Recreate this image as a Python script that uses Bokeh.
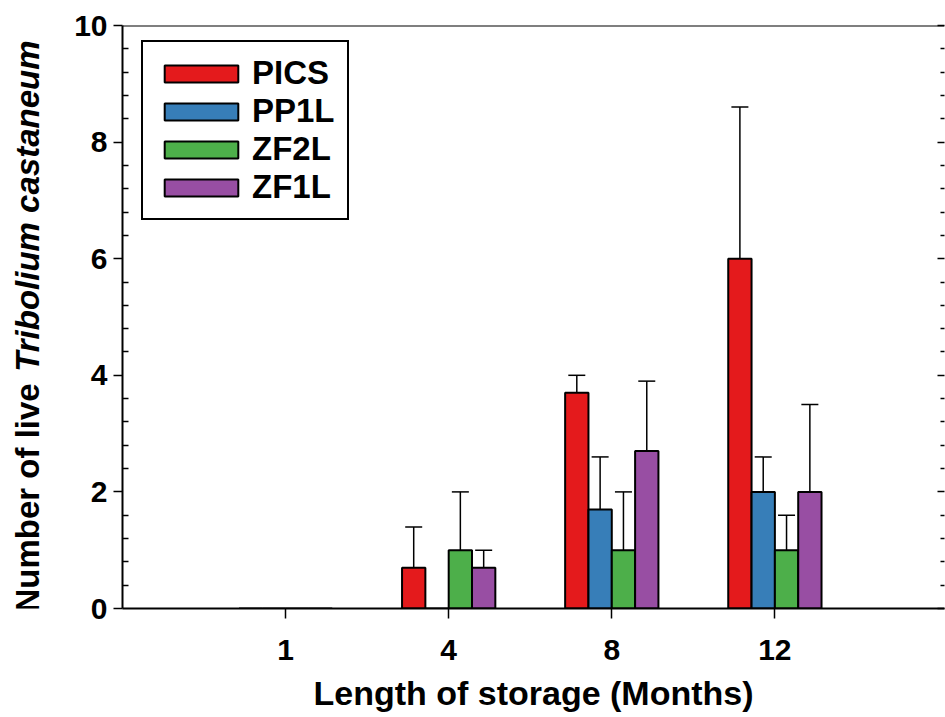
import math
from bokeh.plotting import figure
from bokeh.layouts import row
from bokeh.models import (ColumnDataSource, Range1d, FixedTicker, LinearAxis, Legend,
                          LegendItem, Whisker, TeeHead, Span, Label)
from bokeh.embed import file_html
from bokeh.resources import INLINE

# ---- data ----
months = ["1", "4", "8", "12"]
series = ["PICS", "PP1L", "ZF2L", "ZF1L"]
colors = ["#E41A1C", "#377EB8", "#4DAF4A", "#984EA3"]
pics = [0.0, 0.7, 3.7, 6.0]
pics_upper = [0.0, 1.4, 4.0, 8.6]
pp1l = [0.0, 0.0, 1.7, 2.0]
pp1l_upper = [0.0, 0.0, 2.6, 2.6]
zf2l = [0.0, 1.0, 1.0, 1.0]
zf2l_upper = [0.0, 2.0, 2.0, 1.6]
zf1l = [0.0, 0.7, 2.7, 2.0]
zf1l_upper = [0.0, 1.0, 3.9, 3.5]
y_ticks = [0, 2, 4, 6, 8, 10]
y_minor = [0.4, 0.8, 1.2, 1.6, 2.4, 2.8, 3.2, 3.6, 4.4, 4.8, 5.2, 5.6,
           6.4, 6.8, 7.2, 7.6, 8.4, 8.8, 9.2, 9.6]
y_title_plain = "Number of live"
y_title_italic = "Tribolium castaneum"
x_title = "Length of storage (Months)"

values = [pics, pp1l, zf2l, zf1l]
uppers = [pics_upper, pp1l_upper, zf2l_upper, zf1l_upper]

FONT = "Liberation Sans"
bar_w = 0.143
positions = [i + 1 for i in range(len(months))]

TW = 48  # width of the strip that carries the y title
W, H = 945, 717
TOP, BOTTOM = 25, 109

# ---- y-title strip (frame aligned with the chart frame; y range = pixels from page bottom) ----
tp = figure(width=TW, height=H, x_range=Range1d(0, TW), y_range=Range1d(BOTTOM, H - TOP),
            output_backend="svg", toolbar_location=None,
            min_border_left=0, min_border_right=0,
            min_border_top=TOP, min_border_bottom=BOTTOM,
            x_axis_location=None, y_axis_location=None)
tp.grid.visible = False
tp.outline_line_color = None
tp.background_fill_color = "white"
tp.border_fill_color = "white"
tp.add_layout(Label(x=27, y=H - 612, text=y_title_plain, angle=math.pi / 2,
                    text_align="left", text_baseline="middle", text_font=FONT,
                    text_font_size="33px", text_font_style="bold", text_color="black"))
tp.add_layout(Label(x=27, y=H - 40, text=y_title_italic, angle=math.pi / 2,
                    text_align="right", text_baseline="middle", text_font=FONT,
                    text_font_size="33px", text_font_style="bold italic", text_color="black"))

# ---- main chart ----
p = figure(width=W - TW, height=H, x_range=Range1d(0, 5.04), y_range=Range1d(0, 10),
           output_backend="svg", toolbar_location=None,
           min_border_left=122 - TW, min_border_top=TOP, min_border_right=1,
           min_border_bottom=BOTTOM)
p.grid.visible = False
p.outline_line_color = None
p.background_fill_color = "white"
p.border_fill_color = "white"

renderers = []
wx, wlo, whi = [], [], []
for i, (name, col, vals, ups) in enumerate(zip(series, colors, values, uppers)):
    off = (i - 1.5) * bar_w
    xs = [pos + off for pos in positions]
    src = ColumnDataSource(dict(x=xs, top=vals))
    r = p.vbar(x="x", top="top", width=bar_w, source=src, fill_color=col,
               line_color="black", line_width=2)
    renderers.append(r)
    for x, v, u in zip(xs, vals, ups):
        if u > v:
            wx.append(x); wlo.append(v); whi.append(u)

wsrc = ColumnDataSource(dict(x=wx, lower=wlo, upper=whi))
whisk = Whisker(source=wsrc, base="x", lower="lower", upper="upper", dimension="height",
                line_color="black", line_width=1.5, lower_head=None,
                upper_head=TeeHead(size=17, line_color="black", line_width=1.5))
p.add_layout(whisk)

# top line
p.add_layout(Span(location=10, dimension="width", line_color="black", line_width=2))

# x axis
xa = p.xaxis[0]
xa.ticker = FixedTicker(ticks=positions, minor_ticks=[])
xa.major_label_overrides = {pos: m for pos, m in zip(positions, months)}
xa.axis_label = x_title
xa.axis_label_text_font = FONT
xa.axis_label_text_font_size = "34px"
xa.axis_label_text_font_style = "bold"
xa.axis_label_text_color = "black"
xa.axis_label_standoff = 11
xa.major_label_text_font = FONT
xa.major_label_text_font_size = "30px"
xa.major_label_text_font_style = "bold"
xa.major_label_text_color = "black"
xa.major_label_standoff = 21
xa.axis_line_width = 2
xa.axis_line_color = "black"
xa.major_tick_out = 10
xa.major_tick_in = 0
xa.major_tick_line_width = 1.5

# left y axis
ya = p.yaxis[0]
ya.ticker = FixedTicker(ticks=y_ticks, minor_ticks=y_minor)
ya.major_label_text_font = FONT
ya.major_label_text_font_size = "30px"
ya.major_label_text_font_style = "bold"
ya.major_label_text_color = "black"
ya.major_label_standoff = 6
ya.axis_line_width = 2
ya.axis_line_color = "black"
ya.major_tick_out = 9
ya.major_tick_in = 0
ya.minor_tick_out = 0
ya.minor_tick_in = 6
ya.major_tick_line_width = 1.5
ya.minor_tick_line_width = 1.5

# right axis: inward ticks only
ra = LinearAxis(ticker=FixedTicker(ticks=y_ticks, minor_ticks=y_minor),
                major_label_overrides={t: "" for t in y_ticks},
                major_label_text_font_size="1px", major_label_standoff=0,
                axis_line_color=None, major_tick_in=7, major_tick_out=0,
                minor_tick_in=4, minor_tick_out=0,
                major_tick_line_width=1.5, minor_tick_line_width=1.5)
p.add_layout(ra, "right")

legend = Legend(items=[LegendItem(label=s, renderers=[r]) for s, r in zip(series, renderers)],
                location=(19, 388), orientation="vertical",
                glyph_width=92, glyph_height=21, label_height=21,
                spacing=0, padding=12, margin=0, label_standoff=5,
                label_text_font=FONT, label_text_font_size="33px",
                label_text_font_style="bold", label_text_color="black",
                border_line_color="black", border_line_width=2, border_line_alpha=1.0,
                background_fill_color="white", background_fill_alpha=1.0)
p.add_layout(legend)

layout = row(tp, p)
open("out.html", "w").write(file_html(layout, INLINE))
